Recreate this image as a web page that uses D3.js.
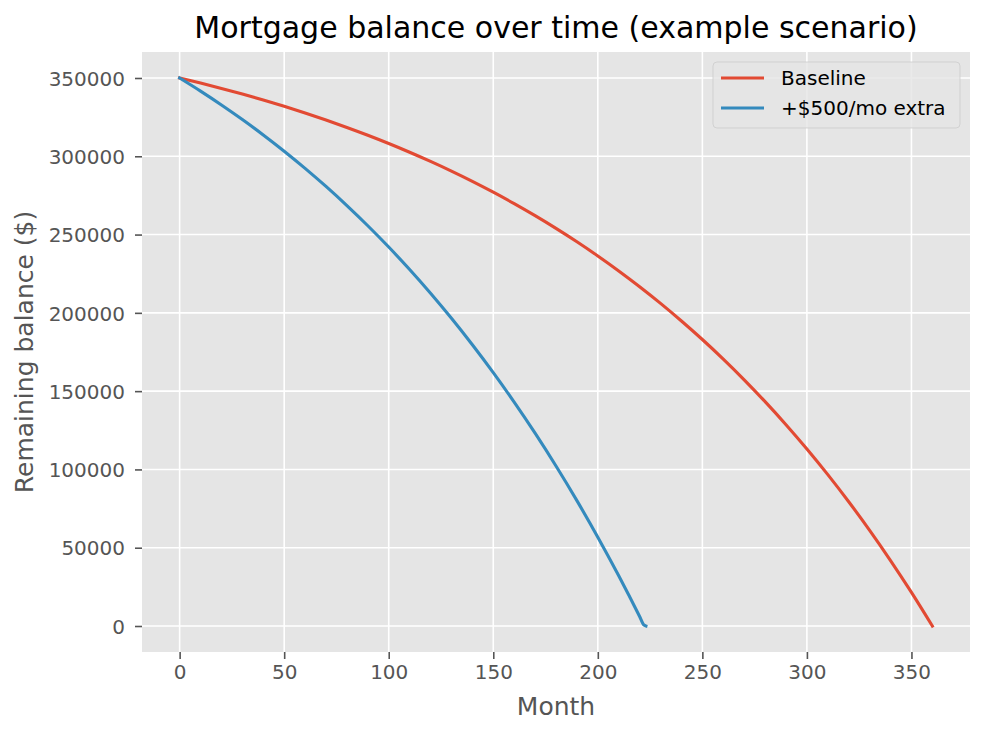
<!DOCTYPE html>
<html>
<head>
<meta charset="utf-8">
<script src="https://cdn.jsdelivr.net/npm/d3@7"></script>
<style>
  body { margin: 0; background: #fff; }
  text { font-family: "DejaVu Sans", sans-serif; }
</style>
</head>
<body>
<svg id="chart" width="985" height="735"></svg>
<script>
// values (balance in $ by month)
var baseMonths = [0, 10, 20, 30, 40, 50, 60, 70, 80, 90, 100, 110, 120, 130, 140, 150, 160, 170, 180,
  190, 200, 210, 220, 230, 240, 250, 260, 270, 280, 290, 300, 310, 320, 330, 340, 350, 360];
var baseBalance = [350000, 346758, 343336, 339723, 335911, 331886, 327639, 323155, 318423, 313428,
  308155, 302590, 296717, 290517, 283973, 277065, 269775, 262080, 253957, 245384, 236335, 226783,
  216702, 206061, 194829, 182974, 170461, 157253, 143312, 128598, 113062, 96668, 79366, 61102,
  41824, 21476, 0];
var extraMonths = [0, 10, 20, 30, 40, 50, 60, 70, 80, 90, 100, 110, 120, 130, 140, 150, 160, 170,
  180, 190, 200, 210, 220, 222, 223];
var extraBalance = [350000, 341634, 332804, 323483, 313646, 303262, 292302, 280733, 268523, 255635,
  242031, 227672, 212516, 196519, 179634, 161812, 143001, 123145, 102187, 80066, 56718, 32073,
  6061, 683, 0];
var seriesNames = ["Baseline", "+$500/mo extra"];
var colors = ["#E24A33", "#348ABD"];
var xTicks = [0, 50, 100, 150, 200, 250, 300, 350];
var yTicks = [0, 50000, 100000, 150000, 200000, 250000, 300000, 350000];

var plotL = 142, plotR = 970, plotT = 52, plotB = 652;
var svg = d3.select("#chart");

var x = d3.scaleLinear().domain([-18, 378]).range([plotL, plotR]);
var y = d3.scaleLinear().domain([-16600, 366600]).range([plotB, plotT]);

svg.append("rect").attr("x", plotL).attr("y", plotT)
  .attr("width", plotR - plotL).attr("height", plotB - plotT).attr("fill", "#E5E5E5");

// grid
svg.append("g").selectAll("line").data(xTicks).enter().append("line")
  .attr("x1", d => x(d)).attr("x2", d => x(d)).attr("y1", plotT).attr("y2", plotB)
  .attr("stroke", "#fff").attr("stroke-width", 1.6);
svg.append("g").selectAll("line").data(yTicks).enter().append("line")
  .attr("y1", d => y(d)).attr("y2", d => y(d)).attr("x1", plotL).attr("x2", plotR)
  .attr("stroke", "#fff").attr("stroke-width", 1.6);

// axes
var gx = svg.append("g").attr("transform", "translate(0," + plotB + ")")
  .call(d3.axisBottom(x).tickValues(xTicks).tickSize(7).tickPadding(6).tickFormat(d3.format("d")));
var gy = svg.append("g").attr("transform", "translate(" + plotL + ",0)")
  .call(d3.axisLeft(y).tickValues(yTicks).tickSize(7).tickPadding(10).tickFormat(d3.format("d")));
[gx, gy].forEach(function (g) {
  g.select(".domain").remove();
  g.selectAll("line").attr("stroke", "#555555").attr("stroke-width", 1.6);
  g.selectAll("text").attr("fill", "#555555").style("font-size", "20px")
    .style("font-family", "DejaVu Sans, sans-serif");
});
gy.selectAll("text").attr("dy", "0.36em");

var line = d3.line().curve(d3.curveMonotoneX).x(d => x(d[0])).y(d => y(d[1]));
var series = [d3.zip(baseMonths, baseBalance), d3.zip(extraMonths, extraBalance)];
series.forEach(function (s, i) {
  svg.append("path").datum(s).attr("d", line).attr("fill", "none")
    .attr("stroke", colors[i]).attr("stroke-width", 3.1).attr("stroke-linecap", "square");
});

// title and labels
svg.append("text").attr("x", (plotL + plotR) / 2).attr("y", 38).attr("text-anchor", "middle")
  .style("font-size", "30px").attr("fill", "#000").text("Mortgage balance over time (example scenario)");
svg.append("text").attr("x", (plotL + plotR) / 2).attr("y", 715).attr("text-anchor", "middle")
  .style("font-size", "25px").attr("fill", "#555555").text("Month");
svg.append("text").attr("transform", "translate(33," + (plotT + plotB) / 2 + ") rotate(-90)")
  .attr("text-anchor", "middle").style("font-size", "25px").attr("fill", "#555555")
  .text("Remaining balance ($)");

// legend
var lg = svg.append("g");
lg.append("rect").attr("x", 713).attr("y", 62).attr("width", 247).attr("height", 66)
  .attr("rx", 4).attr("fill", "#E5E5E5").attr("fill-opacity", 0.8)
  .attr("stroke", "#cccccc").attr("stroke-opacity", 0.8);
seriesNames.forEach(function (name, i) {
  var yy = 78 + i * 30;
  lg.append("line").attr("x1", 721).attr("x2", 764).attr("y1", yy).attr("y2", yy)
    .attr("stroke", colors[i]).attr("stroke-width", 3.1);
  lg.append("text").attr("x", 781).attr("y", yy + 7).style("font-size", "20px")
    .attr("fill", "#000").text(name);
});
</script>
</body>
</html>
